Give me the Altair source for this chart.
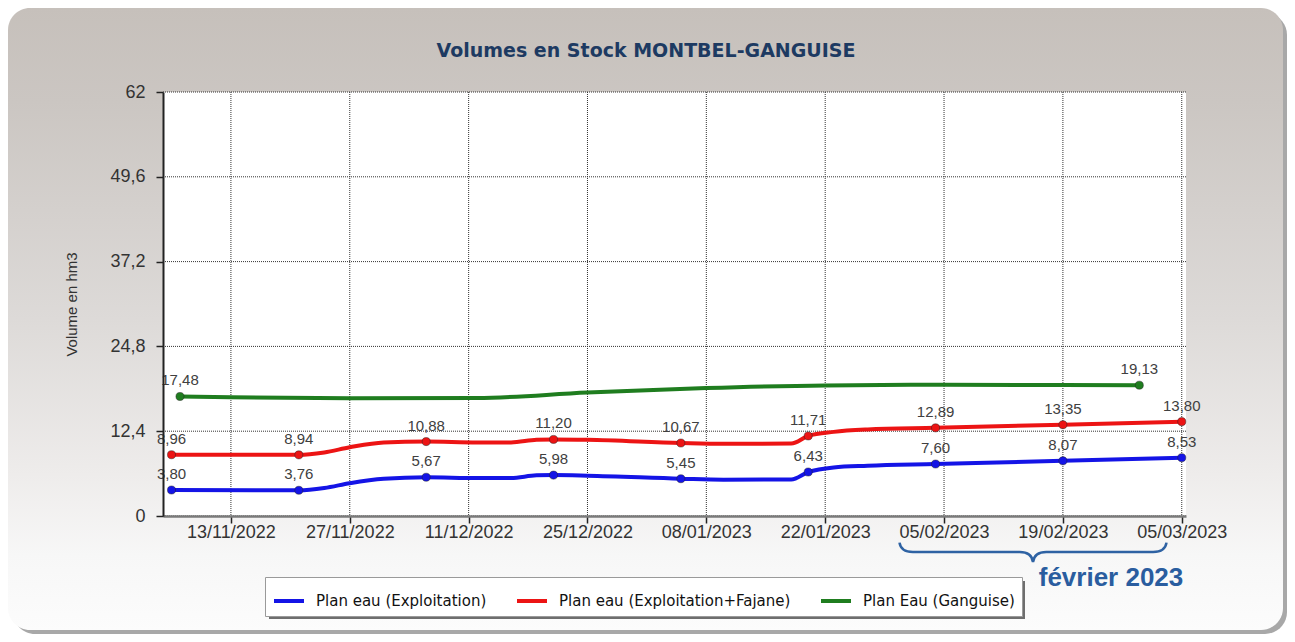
import altair as alt
import pandas as pd

# ---------------- data ----------------
series_names = ["Plan eau (Exploitation)", "Plan eau (Exploitation+Fajane)", "Plan Eau (Ganguise)"]
series_colors = ["#1414e6", "#ec1414", "#1f7d1f"]

blue_dates = ["2022-11-06", "2022-11-21", "2022-11-24", "2022-11-27", "2022-12-01", "2022-12-06",
              "2022-12-12", "2022-12-16", "2022-12-19", "2022-12-21", "2022-12-25", "2023-01-05",
              "2023-01-10", "2023-01-18", "2023-01-20", "2023-01-23", "2023-01-27", "2023-02-04",
              "2023-02-19", "2023-03-05"]
blue_values = [3.80, 3.76, 4.10, 4.80, 5.45, 5.67, 5.55, 5.55, 5.95, 5.98, 5.90, 5.45,
               5.30, 5.35, 6.43, 7.10, 7.35, 7.60, 8.07, 8.53]
blue_marked = [1, 1, 0, 0, 0, 1, 0, 0, 0, 1, 0, 1, 0, 0, 1, 0, 0, 1, 1, 1]

red_dates = blue_dates
red_values = [8.96, 8.94, 9.30, 10.05, 10.75, 10.88, 10.75, 10.75, 11.15, 11.20, 11.15, 10.67,
              10.55, 10.60, 11.71, 12.30, 12.65, 12.89, 13.35, 13.80]
red_marked = blue_marked

green_dates = ["2022-11-07", "2022-11-13", "2022-11-27", "2022-12-12", "2022-12-25", "2023-01-08",
               "2023-01-22", "2023-02-05", "2023-02-19", "2023-02-28"]
green_values = [17.48, 17.35, 17.20, 17.25, 18.05, 18.70, 19.10, 19.20, 19.15, 19.13]
green_marked = [1, 0, 0, 0, 0, 0, 0, 0, 0, 1]

x_tick_dates = ["2022-11-13", "2022-11-27", "2022-12-11", "2022-12-25", "2023-01-08",
                "2023-01-22", "2023-02-05", "2023-02-19", "2023-03-05"]
x_domain_dates = ["2022-11-05", "2023-03-05T12:00"]
y_ticks = [0, 12.4, 24.8, 37.2, 49.6, 62]

title_text = "Volumes en Stock MONTBEL-GANGUISE"
y_title = "Volume en hm3"
note_text = "février 2023"


def ms(d):
    return int(pd.Timestamp(d).value // 10**6)


rows = []
for name, dates, vals, marks in [
    (series_names[0], blue_dates, blue_values, blue_marked),
    (series_names[1], red_dates, red_values, red_marked),
    (series_names[2], green_dates, green_values, green_marked),
]:
    for d, v, m in zip(dates, vals, marks):
        rows.append({"serie": name, "t": ms(d), "v": v, "m": m})
df = pd.DataFrame(rows)
xgrid_df = pd.DataFrame({"t": [ms(d) for d in x_tick_dates]})
ygrid_df = pd.DataFrame({"v": y_ticks})

# ---------------- geometry ----------------
W, H = 1023, 424           # plot area
PL, PT = 155, 84           # padding left / top (svg coords)
PR, PB = 1279 - PL - W, 626 - PT - H

one = alt.Data(values=[{"a": 1}])

xscale = alt.Scale(type="utc", domain=[ms(d) for d in x_domain_dates])
yscale = alt.Scale(domain=[0, 62], nice=False, zero=True)
cscale = alt.Scale(domain=series_names, range=series_colors)

x_axis = alt.Axis(values=[ms(d) for d in x_tick_dates], format="%d/%m/%Y", title=None,
                  labelFont="Liberation Sans", labelFontSize=18, labelColor="#333",
                  labelPadding=0, labelFlush=False, labelOverlap=False,
                  tickSize=7, tickColor="#222", tickWidth=1.5,
                  domainColor="#7a7a7a", domainWidth=2.5, grid=False, zindex=1)
y_axis = alt.Axis(values=y_ticks, title=y_title, titleFont="Liberation Sans", titleFontSize=15,
                  titleFontWeight="normal", titleColor="#333", titlePadding=30,
                  labelExpr="replace(toString(datum.value), '.', ',')",
                  labelFont="Liberation Sans", labelFontSize=18, labelColor="#333", labelPadding=11,
                  tickSize=7, tickColor="#222", tickWidth=1.5,
                  domainColor="#222", domainWidth=2, grid=False, zindex=1)

legend = alt.Legend(title=None, orient="none", legendX=102, legendY=485, direction="horizontal",
                    symbolType="stroke", symbolStrokeWidth=4, symbolSize=900,
                    labelFont="DejaVu Sans", labelFontSize=15, labelColor="#111", labelOffset=10,
                    labelLimit=0, fillColor="white", strokeColor="#9a9a9a", padding=7,
                    columnPadding=22)

# ---------------- decorations ----------------
panel_shadow = alt.Chart(one).mark_rect(color="#a8a8a8", cornerRadius=22).encode(
    x=alt.value(-PL + 5), x2=alt.value(W + PR + 0), y=alt.value(-PT + 5), y2=alt.value(H + PB))
panel = alt.Chart(one).mark_rect(
    cornerRadius=22,
    color=alt.LinearGradient(gradient="linear", x1=0, x2=0, y1=0, y2=1, stops=[
        alt.GradientStop(offset=0, color="#c6c0bb"),
        alt.GradientStop(offset=0.15, color="#cbc6c2"),
        alt.GradientStop(offset=0.5, color="#dddad8"),
        alt.GradientStop(offset=0.75, color="#eeeceb"),
        alt.GradientStop(offset=0.88, color="#f7f7f7"),
        alt.GradientStop(offset=1, color="#fcfcfc"),
    ])).encode(x=alt.value(-PL), x2=alt.value(W + PR - 4), y=alt.value(-PT), y2=alt.value(H + PB - 4))
plot_bg = alt.Chart(one).mark_rect(color="white").encode(
    x=alt.value(0), x2=alt.value(W), y=alt.value(0), y2=alt.value(H))
legend_shadow = alt.Chart(one).mark_rect(color="#6e6e6e").encode(
    x=alt.value(106), x2=alt.value(862), y=alt.value(489), y2=alt.value(527))

xgrid = alt.Chart(xgrid_df).mark_rule(color="#333", strokeWidth=1, strokeDash=[1, 1]).encode(
    x=alt.X("t:T", scale=xscale, axis=x_axis), y=alt.value(0), y2=alt.value(H))
ygrid = alt.Chart(ygrid_df).mark_rule(color="#333", strokeWidth=1, strokeDash=[1, 1]).encode(
    y=alt.Y("v:Q", scale=yscale, axis=y_axis), x=alt.value(0), x2=alt.value(W))

title = alt.Chart(one).mark_text(text=title_text, font="DejaVu Sans", fontSize=19, fontWeight="bold",
                                 color="#1d3a62", align="center", baseline="alphabetic").encode(
    x=alt.value(483), y=alt.value(-35))

brace_path = ("M -1 -0.07 Q -0.99 0 -0.9 0 L -0.1 0 Q -0.01 0 0 0.075 "
              "Q 0.01 0 0.1 0 L 0.9 0 Q 0.99 0 1 -0.07")
brace = alt.Chart(one).mark_point(shape=brace_path, size=71289, filled=False, stroke="#2e62a3",
                                  strokeWidth=2.5, opacity=1).encode(
    x=alt.value(870), y=alt.value(460))
note = alt.Chart(one).mark_text(text=note_text, font="Liberation Sans", fontSize=26, fontWeight="bold",
                                color="#2a5d9f", align="center", baseline="alphabetic").encode(
    x=alt.value(948), y=alt.value(494))

# ---------------- data layers ----------------
base = alt.Chart(df).encode(
    x=alt.X("t:T", scale=xscale, axis=x_axis),
    y=alt.Y("v:Q", scale=yscale, axis=y_axis),
)
lines = base.mark_line(interpolate="monotone", strokeWidth=4).encode(
    color=alt.Color("serie:N", scale=cscale, legend=legend),
    detail="serie:N")
marked = base.transform_filter("datum.m == 1")
points = marked.mark_point(filled=True, size=65, opacity=1, stroke="#222", strokeWidth=0.8,
                           strokeOpacity=0.6).encode(
    color=alt.Color("serie:N", scale=cscale, legend=None))
labels = marked.transform_calculate(
    lab="replace(format(datum.v, '.2f'), '.', ',')"
).mark_text(font="Liberation Sans", fontSize=15, color="#404040", dy=-11,
            align="center", baseline="alphabetic").encode(text="lab:N")

chart = alt.layer(
    panel_shadow, panel, plot_bg, xgrid, ygrid, lines, points, labels, title, brace, note,
    legend_shadow
).properties(
    width=W, height=H, background="white",
    padding={"left": PL, "top": PT, "right": PR, "bottom": PB},
    autosize=alt.AutoSizeParams(type="none"),
).configure_view(stroke=None)

chart.save("out.html", embed_options={"renderer": "svg", "actions": False})
